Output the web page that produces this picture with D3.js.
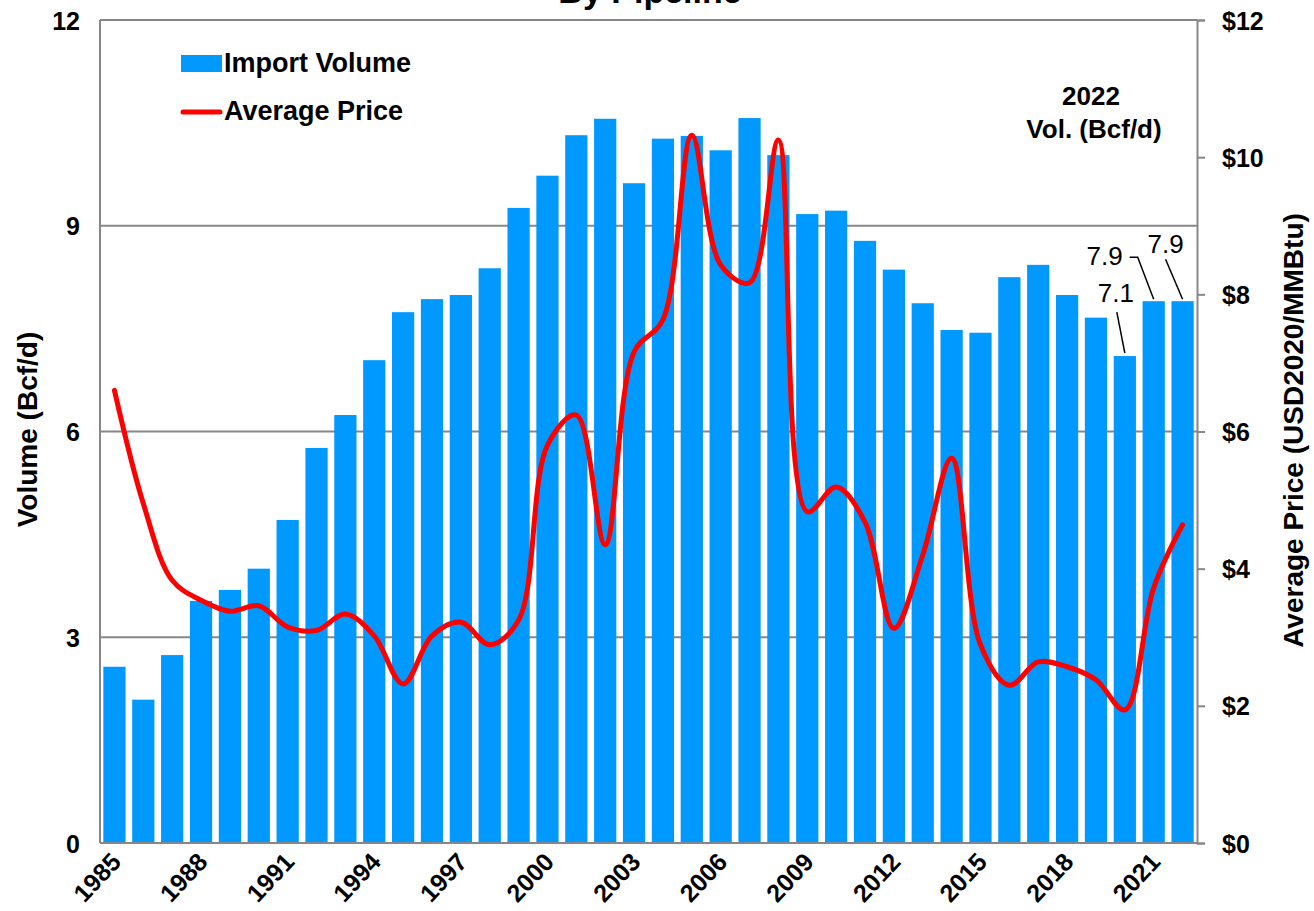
<!DOCTYPE html>
<html>
<head>
<meta charset="utf-8">
<script src="https://cdn.jsdelivr.net/npm/d3@7"></script>
<style>
  html, body { margin: 0; padding: 0; background: #ffffff; }
  svg { display: block; font-family: "Liberation Sans", Arial, sans-serif; }
</style>
</head>
<body>
<svg id="chart" width="1314" height="911"></svg>
<script>
// Pipeline import volume (Bcf/d) and average price (USD2020/MMBtu), 1985-2022
const years = d3.range(1985, 2023);
const volume = [
  2.57, 2.09, 2.74, 3.53, 3.69, 4.00, 4.71, 5.76, 6.24, 7.04,
  7.74, 7.93, 7.99, 8.38, 9.26, 9.73, 10.32, 10.56, 9.62, 10.27,
  10.31, 10.10, 10.57, 10.03, 9.17, 9.22, 8.78, 8.36, 7.87, 7.48,
  7.44, 8.25, 8.43, 7.99, 7.66, 7.1, 7.9, 7.9
];
const price = [
  6.60, 4.95, 3.83, 3.54, 3.38, 3.46, 3.15, 3.10, 3.34, 3.02,
  2.32, 3.02, 3.22, 2.89, 3.25, 5.80, 6.24, 4.35, 7.16, 7.63,
  10.32, 8.43, 8.17, 10.25, 4.83, 5.19, 4.68, 3.13, 4.20, 5.61,
  2.89, 2.30, 2.64, 2.57, 2.38, 1.94, 3.72, 4.64
];
const volumeTicks = [0, 3, 6, 9, 12];
const priceTicks = [0, 2, 4, 6, 8, 10, 12];
const yearLabels = d3.range(1985, 2022, 3);
const labelledYears = [2020, 2021, 2022];

// label offsets (relative to bar top) and leader line paths
const calloutLayout = {
  2020: { dx: -9, dy: -54, leader: [[-8, -44], [0, -3]] },
  2021: { dx: -49, dy: -36, leader: [[-24, -44], [-16, -44], [0, -2]] },
  2022: { dx: -17, dy: -48, leader: [[-17, -42], [0, -2]] }
};

const L = 100, R = 1197, T = 20, B = 843;
const GRID = "#878787", BAR = "#0099FF", LINE = "#FF0000";

const svg = d3.select("#chart");

const x = d3.scaleBand().domain(years).range([L, R]).paddingInner(0.23).paddingOuter(0.115);
const y = d3.scaleLinear().domain([0, 12]).range([B, T]);
const yR = d3.scaleLinear().domain([0, 12]).range([B, T]);
const cx = yr => x(yr) + x.bandwidth() / 2;

// title (second line of heading)
svg.append("text")
  .attr("x", 650).attr("y", 3)
  .attr("text-anchor", "middle")
  .attr("font-size", 34).attr("font-weight", "bold")
  .text("By Pipeline");

// horizontal gridlines
svg.append("g").selectAll("line")
  .data(volumeTicks.filter(v => v > 0))
  .join("line")
  .attr("x1", L).attr("x2", R)
  .attr("y1", d => y(d)).attr("y2", d => y(d))
  .attr("stroke", GRID).attr("stroke-width", 2);

// bars
svg.append("g").selectAll("rect")
  .data(years.map((yr, i) => ({ yr, v: volume[i] })))
  .join("rect")
  .attr("x", d => x(d.yr))
  .attr("width", x.bandwidth())
  .attr("y", d => y(d.v))
  .attr("height", d => y(0) - y(d.v))
  .attr("fill", BAR);

// axes frame
svg.append("line").attr("x1", L).attr("x2", L).attr("y1", T).attr("y2", B)
  .attr("stroke", GRID).attr("stroke-width", 2);
svg.append("line").attr("x1", L).attr("x2", R).attr("y1", B).attr("y2", B)
  .attr("stroke", GRID).attr("stroke-width", 2);

// right axis with outward ticks
const rightAxis = d3.axisRight(yR).tickValues(priceTicks).tickSize(8).tickFormat(d => "$" + d);
const gR = svg.append("g").attr("transform", `translate(${R},0)`).call(rightAxis);
gR.select(".domain").attr("stroke", GRID).attr("stroke-width", 2);
gR.selectAll(".tick line").attr("stroke", GRID).attr("stroke-width", 2);
gR.selectAll(".tick text")
  .attr("x", 25).attr("dy", "0.36em")
  .attr("fill", "#000").attr("font-size", 25).attr("font-weight", "bold")
  .attr("font-family", "Liberation Sans, Arial, sans-serif");

// left axis labels
const leftAxis = d3.axisLeft(y).tickValues(volumeTicks).tickSize(0).tickFormat(d3.format("d"));
const gL = svg.append("g").attr("transform", `translate(${L},0)`).call(leftAxis);
gL.select(".domain").remove();
gL.selectAll(".tick text")
  .attr("x", -20).attr("dy", "0.36em")
  .attr("fill", "#000").attr("font-size", 25).attr("font-weight", "bold")
  .attr("font-family", "Liberation Sans, Arial, sans-serif");

// year labels
svg.append("g").selectAll("text")
  .data(yearLabels)
  .join("text")
  .attr("transform", d => `translate(${cx(d) + 8},${B + 20}) rotate(-47)`)
  .attr("text-anchor", "end")
  .attr("font-size", 25).attr("font-weight", "bold")
  .text(d => d);

// price line
const line = d3.line()
  .x((d, i) => cx(years[i]))
  .y(d => yR(d))
  .curve(d3.curveCatmullRom.alpha(0.5));
svg.append("path")
  .datum(price)
  .attr("d", line)
  .attr("fill", "none")
  .attr("stroke", LINE).attr("stroke-width", 5)
  .attr("stroke-linejoin", "round").attr("stroke-linecap", "round");

// axis titles
svg.append("text")
  .attr("transform", `translate(37,${(T + B) / 2 - 2}) rotate(-90)`)
  .attr("text-anchor", "middle")
  .attr("font-size", 28).attr("font-weight", "bold")
  .text("Volume (Bcf/d)");
svg.append("text")
  .attr("transform", `translate(1303,${(T + B) / 2 - 1}) rotate(-90)`)
  .attr("text-anchor", "middle")
  .attr("font-size", 28).attr("font-weight", "bold")
  .text("Average Price (USD2020/MMBtu)");

// legend
const legend = svg.append("g");
legend.append("rect").attr("x", 181).attr("y", 55).attr("width", 41).attr("height", 17).attr("fill", BAR);
legend.append("text").attr("x", 224).attr("y", 72)
  .attr("font-size", 27).attr("font-weight", "bold").text("Import Volume");
legend.append("line").attr("x1", 183).attr("x2", 220).attr("y1", 112).attr("y2", 112)
  .attr("stroke", LINE).attr("stroke-width", 5).attr("stroke-linecap", "round");
legend.append("text").attr("x", 224).attr("y", 120)
  .attr("font-size", 27).attr("font-weight", "bold").text("Average Price");

// 2022 volume note
const note = svg.append("text")
  .attr("text-anchor", "middle")
  .attr("font-size", 26).attr("font-weight", "bold");
note.append("tspan").attr("x", 1091).attr("y", 105).text("2022");
note.append("tspan").attr("x", 1094).attr("y", 138).text("Vol. (Bcf/d)");

// value callouts on the latest bars
const callouts = svg.append("g");
labelledYears.forEach(yr => {
  const v = volume[years.indexOf(yr)];
  const bx = cx(yr), by = y(v);
  const c = calloutLayout[yr];
  callouts.append("path")
    .attr("d", d3.line()(c.leader.map(p => [bx + p[0], by + p[1]])))
    .attr("fill", "none").attr("stroke", "#000").attr("stroke-width", 1.5);
  callouts.append("text")
    .attr("x", bx + c.dx).attr("y", by + c.dy)
    .attr("text-anchor", "middle")
    .attr("font-size", 26)
    .text(v.toFixed(1));
});
</script>
</body>
</html>
